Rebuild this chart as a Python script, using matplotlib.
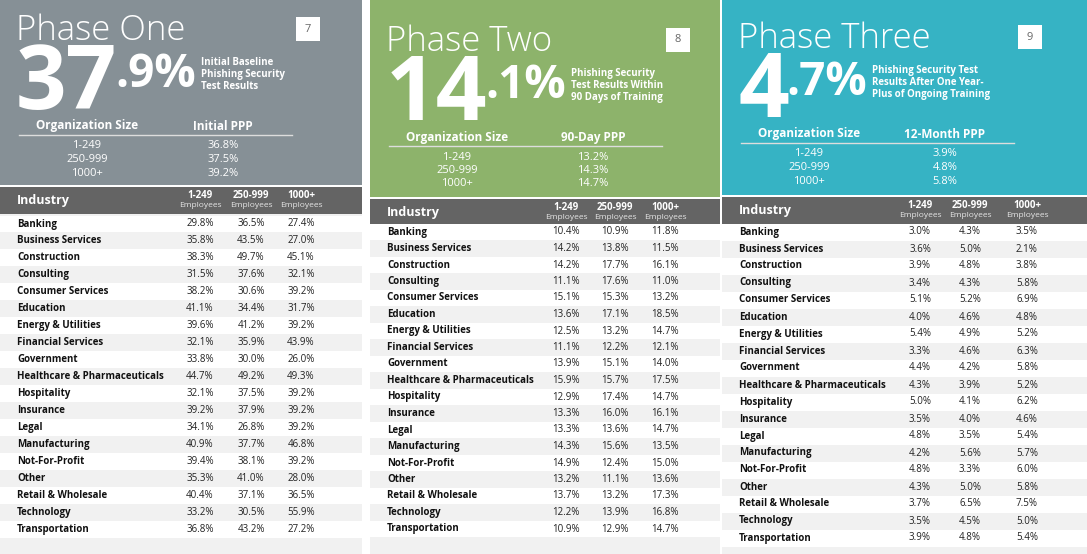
import matplotlib
matplotlib.use("Agg")
import matplotlib.pyplot as plt
from matplotlib.patches import Rectangle

plt.rcParams['font.family'] = ['Open Sans', 'DejaVu Sans']

industries = ["Banking", "Business Services", "Construction", "Consulting", "Consumer Services",
              "Education", "Energy & Utilities", "Financial Services", "Government",
              "Healthcare & Pharmaceuticals", "Hospitality", "Insurance", "Legal", "Manufacturing",
              "Not-For-Profit", "Other", "Retail & Wholesale", "Technology", "Transportation"]
size_labels = ["1-249", "250-999", "1000+"]

p1_small = [29.8, 35.8, 38.3, 31.5, 38.2, 41.1, 39.6, 32.1, 33.8, 44.7, 32.1, 39.2, 34.1, 40.9, 39.4, 35.3, 40.4, 33.2, 36.8]
p1_mid = [36.5, 43.5, 49.7, 37.6, 30.6, 34.4, 41.2, 35.9, 30.0, 49.2, 37.5, 37.9, 26.8, 37.7, 38.1, 41.0, 37.1, 30.5, 43.2]
p1_large = [27.4, 27.0, 45.1, 32.1, 39.2, 31.7, 39.2, 43.9, 26.0, 49.3, 39.2, 39.2, 39.2, 46.8, 39.2, 28.0, 36.5, 55.9, 27.2]

p2_small = [10.4, 14.2, 14.2, 11.1, 15.1, 13.6, 12.5, 11.1, 13.9, 15.9, 12.9, 13.3, 13.3, 14.3, 14.9, 13.2, 13.7, 12.2, 10.9]
p2_mid = [10.9, 13.8, 17.7, 17.6, 15.3, 17.1, 13.2, 12.2, 15.1, 15.7, 17.4, 16.0, 13.6, 15.6, 12.4, 11.1, 13.2, 13.9, 12.9]
p2_large = [11.8, 11.5, 16.1, 11.0, 13.2, 18.5, 14.7, 12.1, 14.0, 17.5, 14.7, 16.1, 14.7, 13.5, 15.0, 13.6, 17.3, 16.8, 14.7]

p3_small = [3.0, 3.6, 3.9, 3.4, 5.1, 4.0, 5.4, 3.3, 4.4, 4.3, 5.0, 3.5, 4.8, 4.2, 4.8, 4.3, 3.7, 3.5, 3.9]
p3_mid = [4.3, 5.0, 4.8, 4.3, 5.2, 4.6, 4.9, 4.6, 4.2, 3.9, 4.1, 4.0, 3.5, 5.6, 3.3, 5.0, 6.5, 4.5, 4.8]
p3_large = [3.5, 2.1, 3.8, 5.8, 6.9, 4.8, 5.2, 6.3, 5.8, 5.2, 6.2, 4.6, 5.4, 5.7, 6.0, 5.8, 7.5, 5.0, 5.4]

phases = [
    dict(title="Phase One", whole="37", dec=".9%", page="7",
         desc="Initial Baseline\nPhishing Security\nTest Results", ppp_label="Initial PPP",
         summary=[36.8, 37.5, 39.2], data=(p1_small, p1_mid, p1_large), color="#869096"),
    dict(title="Phase Two", whole="14", dec=".1%", page="8",
         desc="Phishing Security\nTest Results Within\n90 Days of Training", ppp_label="90-Day PPP",
         summary=[13.2, 14.3, 14.7], data=(p2_small, p2_mid, p2_large), color="#8db36b"),
    dict(title="Phase Three", whole="4", dec=".7%", page="9",
         desc="Phishing Security Test\nResults After One Year-\nPlus of Ongoing Training", ppp_label="12-Month PPP",
         summary=[3.9, 4.8, 5.8], data=(p3_small, p3_mid, p3_large), color="#36b3c4"),
]

layouts = [
    dict(x0=0, x1=362, hdr=185, top=7, row0=224, dy=16.95, cols=(200, 251, 301)),
    dict(x0=370, x1=720, hdr=197, top=18, row0=232, dy=16.5, cols=(566, 615, 665)),
    dict(x0=722, x1=1087, hdr=195, top=15, row0=232, dy=17.0, cols=(920, 970, 1027)),
]

W, H = 1087, 554
fig = plt.figure(figsize=(W / 100, H / 100), dpi=100)
ax = fig.add_axes([0, 0, 1, 1])
ax.set_xlim(0, W)
ax.set_ylim(H, 0)
ax.axis('off')
fig.patch.set_facecolor('white')
renderer = fig.canvas.get_renderer()


def right_px(txt):
    bb = txt.get_window_extent(renderer=renderer)
    return ax.transData.inverted().transform((bb.x1, bb.y0))[0]


for ph, L in zip(phases, layouts):
    x0, x1, hdr, t = L['x0'], L['x1'], L['hdr'], L['top']
    w = x1 - x0
    ax.add_patch(Rectangle((x0, 0), w, hdr, color=ph['color'], lw=0))
    ax.add_patch(Rectangle((x0, hdr + 2), w, H - hdr - 2, color="#f1f1f1", lw=0))
    ax.add_patch(Rectangle((x0, hdr + 2), w, 27, color="#646464", lw=0))
    ax.text(x0 + 16, t + 24, ph['title'], color='white', fontsize=25, fontweight='light', va='center', ha='left')
    ax.add_patch(Rectangle((x0 + 296, t + 10), 24, 24, color='white', lw=0))
    ax.text(x0 + 308, t + 22, ph['page'], color='#666666', fontsize=8, ha='center', va='center')
    tw = ax.text(x0 + 16, t + 102, ph['whole'], color='white', fontsize=64, fontweight='bold',
                 ha='left', va='baseline')
    xr = right_px(tw)
    td = ax.text(xr - 2, t + 80, ph['dec'], color='white', fontsize=33, fontweight='bold',
                 ha='left', va='baseline')
    xd = right_px(td)
    ax.text(xd + 5, t + 50, ph['desc'], color='white', fontsize=7, fontweight='bold',
            ha='left', va='top', linespacing=1.1)
    sy = t + 119
    ax.text(x0 + 87, sy, "Organization Size", color='white', fontsize=8.5, fontweight='bold', ha='center', va='center')
    ax.text(x0 + 223, sy, ph['ppp_label'], color='white', fontsize=8.5, fontweight='bold', ha='center', va='center')
    ax.plot([x0 + 19, x0 + 292], [sy + 9, sy + 9], color='#dddddd', lw=1)
    for i, (s, v) in enumerate(zip(size_labels, ph['summary'])):
        yy = sy + 20 + i * 13.5
        ax.text(x0 + 87, yy, s, color='white', fontsize=8, ha='center', va='center')
        ax.text(x0 + 223, yy, f"{v:.1f}%", color='white', fontsize=8, ha='center', va='center')
    hy = hdr + 2 + 13.5
    ax.text(x0 + 17, hy, "Industry", color='white', fontsize=9, fontweight='bold', ha='left', va='center')
    for c, s in zip(L['cols'], size_labels):
        ax.text(c, hy - 5, s, color='white', fontsize=7, fontweight='bold', ha='center', va='center')
        ax.text(c, hy + 5, "Employees", color='#e6e6e6', fontsize=6, ha='center', va='center')
    for i, name in enumerate(industries):
        y = L['row0'] + i * L['dy']
        if i % 2 == 0:
            ax.add_patch(Rectangle((x0, y - L['dy'] / 2), w, L['dy'], color='white', lw=0))
        ax.text(x0 + 17, y, name, color='#111111', fontsize=7, fontweight='bold', ha='left', va='center')
        for c, series in zip(L['cols'], ph['data']):
            ax.text(c, y, f"{series[i]:.1f}%", color='#222222', fontsize=7, ha='center', va='center')

fig.savefig("out.png", dpi=100, facecolor='white')
